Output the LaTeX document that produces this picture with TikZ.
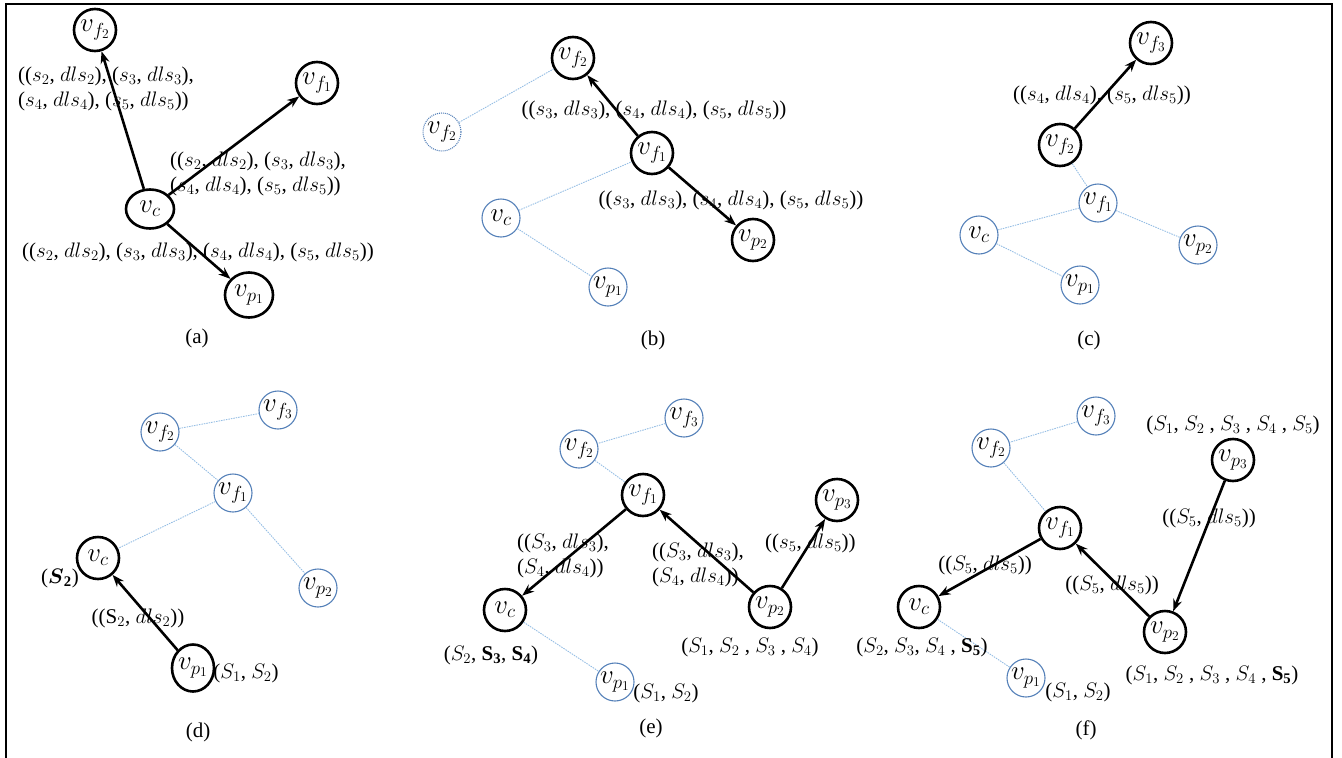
\RequirePackage{fix-cm}
\documentclass[tikz,border=0pt]{standalone}
\usepackage{amsmath}
\usepackage{fontspec}
\setmainfont{Liberation Serif}
\usetikzlibrary{arrows.meta,shapes.geometric}
\definecolor{cblue}{RGB}{84,128,184}
\definecolor{clight}{RGB}{150,190,228}
\newcommand\fl{\fontsize{21}{24.5}\selectfont}
\newcommand\fn{\fontsize{27}{28}\selectfont}
\tikzset{
  bnode/.style={circle, draw=black, line width=2.6pt, minimum size=42pt, inner sep=0pt, font=\fn},
  lnode/.style={circle, draw=cblue, line width=1.1pt, minimum size=38pt, inner sep=0pt, font=\fn},
  dnode/.style={lnode, dash pattern=on 1pt off 1pt},
  arr/.style={line width=2.6pt, -{Stealth[length=12pt,width=9pt]}},
  bl/.style={draw=clight, line width=0.9pt, dash pattern=on 1.5pt off 1pt},
  lab/.style={inner sep=0pt, font=\fl},
  llab/.style={lab, anchor=west, align=left},
}
\begin{document}
\begin{tikzpicture}[x=1pt,y=-1pt]
\useasboundingbox (0,0) rectangle (1342,758);
\draw[line width=2.5pt] (6,760) -- (6,4) -- (1332,4) -- (1332,760);
% ---------------- (a)
\node[bnode] (a_vf2) at (95,30) {$v_{f_2}$};
\node[bnode] (a_vf1) at (317,83) {$v_{f_1}$};
\node[bnode, ellipse, minimum width=48pt, minimum height=39pt] (a_vc) at (150,209) {$v_c$};
\node[bnode, ellipse, minimum width=48pt, minimum height=45pt] (a_vp1) at (249,295) {$v_{p_1}$};
\draw[arr] (a_vc) -- (a_vf2);
\draw[arr] (a_vc) -- (a_vf1);
\draw[arr] (a_vc) -- (a_vp1);
\node[llab] (a_l1) at (18,89) {(($s_2$, $dls_2$), ($s_3$, $dls_3$),\\($s_4$, $dls_4$), ($s_5$, $dls_5$))};
\node[llab] (a_l2) at (170,174) {(($s_2$, $dls_2$), ($s_3$, $dls_3$),\\($s_4$, $dls_4$), ($s_5$, $dls_5$))};
\node[lab] (a_l3) at (198,252) {(($s_2$, $dls_2$), ($s_3$, $dls_3$), ($s_4$, $dls_4$), ($s_5$, $dls_5$))};
\node[lab] (a_cap) at (197,338) {(a)};
% ---------------- (b)
\node[bnode] (b_vf2) at (573,58) {$v_{f_2}$};
\node[dnode] (b_vf2d) at (442,132) {$v_{f_2}$};
\node[bnode] (b_vf1) at (652,153) {$v_{f_1}$};
\node[lnode] (b_vc) at (501,218) {$v_c$};
\node[lnode] (b_vp1) at (608,287) {$v_{p_1}$};
\node[bnode] (b_vp2) at (753,240) {$v_{p_2}$};
\draw[bl] (b_vf2d) -- (b_vf2);
\draw[bl] (b_vc) -- (b_vf1);
\draw[bl] (b_vc) -- (b_vp1);
\draw[arr] (b_vf1) -- (b_vf2);
\draw[arr] (b_vf1) -- (b_vp2);
\node[lab] (b_l1) at (654,110) {(($s_3$, $dls_3$), ($s_4$, $dls_4$), ($s_5$, $dls_5$))};
\node[lab] (b_l2) at (731,200) {(($s_3$, $dls_3$), ($s_4$, $dls_4$), ($s_5$, $dls_5$))};
\node[lab] (b_cap) at (653,340) {(b)};
% ---------------- (c)
\node[bnode] (c_vf3) at (1151,43) {$v_{f_3}$};
\node[bnode] (c_vf2) at (1060,145) {$v_{f_2}$};
\node[lnode] (c_vf1) at (1098,203) {$v_{f_1}$};
\node[lnode] (c_vc) at (979,235) {$v_c$};
\node[lnode] (c_vp2) at (1198,245) {$v_{p_2}$};
\node[lnode] (c_vp1) at (1080,285) {$v_{p_1}$};
\draw[bl] (c_vf2) -- (c_vf1);
\draw[bl] (c_vf1) -- (c_vc);
\draw[bl] (c_vf1) -- (c_vp2);
\draw[bl] (c_vc) -- (c_vp1);
\draw[arr] (c_vf2) -- (c_vf3);
\node[lab] (c_l1) at (1102,95) {(($s_4$, $dls_4$), ($s_5$, $dls_5$))};
\node[lab] (c_cap) at (1089,340) {(c)};
% ---------------- (d)
\node[lnode] (d_vf2) at (160,432) {$v_{f_2}$};
\node[lnode] (d_vf3) at (278,410) {$v_{f_3}$};
\node[lnode] (d_vf1) at (233,493) {$v_{f_1}$};
\node[bnode] (d_vc) at (98,558) {$v_c$};
\node[lnode] (d_vp2) at (318,588) {$v_{p_2}$};
\node[bnode, ellipse, minimum width=42pt, minimum height=47pt] (d_vp1) at (193,668) {$v_{p_1}$};
\draw[bl] (d_vf2) -- (d_vf3);
\draw[bl] (d_vf2) -- (d_vf1);
\draw[bl] (d_vf1) -- (d_vc);
\draw[bl] (d_vf1) -- (d_vp2);
\draw[arr] (d_vp1) -- (d_vc);
\node[lab] (d_s) at (60,578) {($\boldsymbol{S}_{\mathbf{2}}$)};
\node[lab] (d_l1) at (138,618) {(($\mathrm{S}_2$, $dls_2$))};
\node[lab] (d_s1) at (246,673) {($S_1$, $S_2$)};
\node[lab] (d_cap) at (198,732) {(d)};
% ---------------- (e)
\node[lnode] (e_vf3) at (684,418) {$v_{f_3}$};
\node[lnode] (e_vf2) at (579,449) {$v_{f_2}$};
\node[bnode] (e_vf1) at (643,495) {$v_{f_1}$};
\node[bnode] (e_vp3) at (837,500) {$v_{p_3}$};
\node[bnode] (e_vc) at (505,610) {$v_c$};
\node[bnode] (e_vp2) at (770,607) {$v_{p_2}$};
\node[lnode] (e_vp1) at (615,682) {$v_{p_1}$};
\draw[bl] (e_vf3) -- (e_vf2);
\draw[bl] (e_vf2) -- (e_vf1);
\draw[bl] (e_vc) -- (e_vp1);
\draw[arr] (e_vf1) -- (e_vc);
\draw[arr] (e_vp2) -- (e_vf1);
\draw[arr] (e_vp2) -- (e_vp3);
\node[llab] (e_l1) at (517,556) {(($S_3$, $dls_3$),\\($S_4$, $dls_4$))};
\node[llab] (e_l2) at (652,565) {(($S_3$, $dls_3$),\\($S_4$, $dls_4$))};
\node[llab] (e_l3) at (765,543) {(($s_5$, $dls_5$))};
\node[lab] (e_s1) at (491,655) {($S_2$, $\mathbf{S}_{\mathbf{3}}$, $\mathbf{S}_{\mathbf{4}}$)};
\node[lab] (e_s2) at (750,647) {($S_1$, $S_2$ , $S_3$ , $S_4$)};
\node[lab] (e_s3) at (666,693) {($S_1$, $S_2$)};
\node[lab] (e_cap) at (651,728) {(e)};
% ---------------- (f)
\node[lnode] (f_vf3) at (1096,416) {$v_{f_3}$};
\node[lnode] (f_vf2) at (991,448) {$v_{f_2}$};
\node[bnode] (f_vf1) at (1060,528) {$v_{f_1}$};
\node[bnode] (f_vp3) at (1233,460) {$v_{p_3}$};
\node[bnode] (f_vc) at (919,607) {$v_c$};
\node[bnode] (f_vp2) at (1165,632) {$v_{p_2}$};
\node[lnode] (f_vp1) at (1026,678) {$v_{p_1}$};
\draw[bl] (f_vf3) -- (f_vf2);
\draw[bl] (f_vf2) -- (f_vf1);
\draw[bl] (f_vc) -- (f_vp1);
\draw[arr] (f_vf1) -- (f_vc);
\draw[arr] (f_vp2) -- (f_vf1);
\draw[arr] (f_vp3) -- (f_vp2);
\node[lab] (f_s0) at (1233,425) {($S_1$, $S_2$ , $S_3$ , $S_4$ , $S_5$)};
\node[lab] (f_l1) at (1209,518) {(($S_5$, $dls_5$))};
\node[lab] (f_l2) at (985,565) {(($S_5$, $dls_5$))};
\node[lab] (f_l3) at (1112,585) {(($S_5$, $dls_5$))};
\node[lab] (f_s1) at (922,647) {($S_2$, $S_3$, $S_4$ , $\mathbf{S}_{\mathbf{5}}$)};
\node[lab] (f_s2) at (1078,692) {($S_1$, $S_2$)};
\node[lab] (f_s3) at (1212,675) {($S_1$, $S_2$ , $S_3$ , $S_4$ , $\mathbf{S}_{\mathbf{5}}$)};
\node[lab] (f_cap) at (1086,730) {(f)};
\end{tikzpicture}
\end{document}
